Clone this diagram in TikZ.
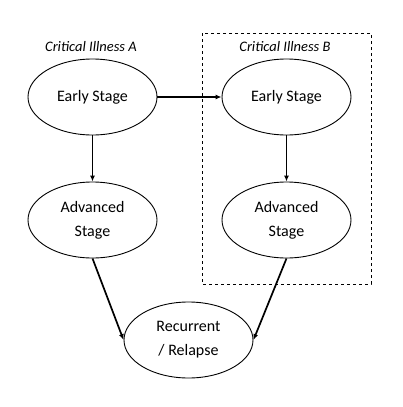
\documentclass[tikz,border=0pt]{standalone}
\usepackage{fontspec}
\setmainfont{Carlito}
\usetikzlibrary{shapes.geometric,arrows.meta}
\begin{document}
\begin{tikzpicture}[x=1pt,y=-1pt,
  stage/.style={draw,ellipse,minimum width=129pt,minimum height=76pt,inner sep=0pt,align=center,font=\fontsize{16}{24}\selectfont,line width=0.9pt},
  conn/.style={line width=1.7pt,-{Latex[length=6pt,width=5pt]}},
  ttl/.style={font=\fontsize{14.5}{17}\selectfont\itshape}]
\useasboundingbox (0,0) rectangle (403,407);
\node[stage] (a1) at (92.5,97) {Early Stage};
\node[stage] (b1) at (286.5,97) {Early Stage};
\node[stage] (a2) at (92.5,220) {Advanced\\Stage};
\node[stage] (b2) at (286.5,220) {Advanced\\Stage};
\node[stage] (c) at (188.5,340) {Recurrent\\/ Relapse};
\node[ttl] (ta) at (91,47) {Critical Illness A};
\node[ttl] (tb) at (285,47) {Critical Illness B};
\coordinate (bx1) at (202,33);
\coordinate (bx2) at (371,284);
\draw[dashed,line width=0.8pt] (bx1) rectangle (bx2);
\draw[conn] (a1) -- (b1);
\draw[conn] (a1) -- (a2);
\draw[conn] (b1) -- (b2);
\draw[conn] (a2.south) -- (c.west);
\draw[conn] (b2.south) -- (c.east);
\end{tikzpicture}
\end{document}
